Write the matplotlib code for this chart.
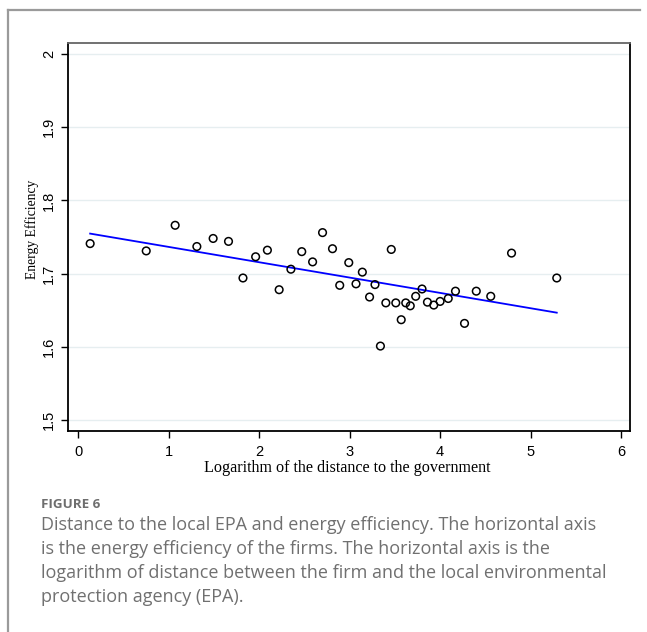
import matplotlib
matplotlib.use("Agg")
import matplotlib.pyplot as plt
import numpy as np
from matplotlib.lines import Line2D

# Log distance to the local EPA (x) and energy efficiency (y)
log_distance = [
    0.13, 0.75, 1.07, 1.31, 1.49, 1.66, 1.82, 1.96, 2.09, 2.22,
    2.35, 2.47, 2.59, 2.70, 2.81, 2.89, 2.99, 3.07, 3.14, 3.22,
    3.28, 3.34, 3.40, 3.46, 3.51, 3.57, 3.62, 3.67, 3.73, 3.80,
    3.86, 3.93, 4.00, 4.09, 4.17, 4.27, 4.40, 4.56, 4.79, 5.29,
]
energy_eff = [
    1.741, 1.731, 1.766, 1.737, 1.748, 1.744, 1.694, 1.723, 1.732, 1.678,
    1.706, 1.730, 1.716, 1.756, 1.734, 1.684, 1.715, 1.686, 1.702, 1.668,
    1.685, 1.601, 1.660, 1.733, 1.660, 1.637, 1.660, 1.656, 1.669, 1.679,
    1.661, 1.657, 1.662, 1.666, 1.676, 1.632, 1.676, 1.669, 1.728, 1.694,
]

x_ticks = [0, 1, 2, 3, 4, 5, 6]
y_ticks = [1.5, 1.6, 1.7, 1.8, 1.9, 2.0]
y_tick_labels = ["1.5", "1.6", "1.7", "1.8", "1.9", "2"]

caption_head = "FIGURE 6"
caption_lines = [
    "Distance to the local EPA and energy efficiency. The horizontal axis",
    "is the energy efficiency of the firms. The horizontal axis is the",
    "logarithm of distance between the firm and the local environmental",
    "protection agency (EPA).",
]

W, H = 647, 632
fig = plt.figure(figsize=(W / 100, H / 100), dpi=100)
ax = fig.add_axes([68 / W, 1 - 431 / H, (630 - 68) / W, (431 - 43) / H])

# light horizontal grid
for yv in y_ticks:
    ax.axhline(yv, color="#e6eef0", lw=1.0, zorder=0)

x = np.array(log_distance)
y = np.array(energy_eff)
ax.scatter(x, y, s=30, facecolors="none", edgecolors="black", linewidths=1.1, zorder=3)

# linear fit
slope, intercept = np.polyfit(x, y, 1)
xs = np.array([x.min(), x.max()])
ax.plot(xs, intercept + slope * xs, color="#0000ff", lw=1.3, zorder=2)

ax.set_xlim(-0.115, 6.10)
ax.set_ylim(1.485, 2.015)
ax.set_xticks(x_ticks)
ax.set_xticklabels([str(t) for t in x_ticks])
ax.set_yticks(y_ticks)
ax.set_yticklabels(y_tick_labels, rotation=90, va="center")

for side in ["left", "bottom", "right"]:
    ax.spines[side].set_color("black")
    ax.spines[side].set_linewidth(1.3)
ax.spines["top"].set_color("#666666")
ax.spines["top"].set_linewidth(1.3)

ax.tick_params(axis="both", direction="out", length=5, width=1, color="black",
               labelsize=10.5, labelcolor="black")
ax.tick_params(axis="x", pad=5)
ax.tick_params(axis="y", pad=3.5)
for lbl in ax.get_xticklabels() + ax.get_yticklabels():
    lbl.set_family("Liberation Sans")

# axis titles placed like the Stata export
fig.text(347.5 / W, 1 - 468 / H, "Logarithm of the distance to the government",
         family="Liberation Serif", fontsize=11.6, ha="center", va="center")
fig.text(32 / W, 1 - 229.5 / H, "Energy Efficiency", family="Liberation Serif",
         fontsize=9.8, rotation=90, ha="center", va="center")

# page frame (left and top gray rules)
fig.add_artist(Line2D([8 / W, 8 / W], [0, 1 - 10 / H], transform=fig.transFigure,
                      color="#9a9a9a", lw=1.6))
fig.add_artist(Line2D([8 / W, 640 / W], [1 - 10 / H, 1 - 10 / H], transform=fig.transFigure,
                      color="#9a9a9a", lw=1.6))

# caption
fig.text(41 / W, 1 - 504 / H, caption_head, family="Open Sans", fontweight="bold",
         fontsize=9.6, color="#6e6e6e", va="center", ha="left")
for i, line in enumerate(caption_lines):
    fig.text(41 / W, 1 - (525 + 24 * i) / H, line, family="Open Sans",
             fontsize=12.95, color="#707070", va="center", ha="left")

fig.savefig("out.png", dpi=100, facecolor="white")
